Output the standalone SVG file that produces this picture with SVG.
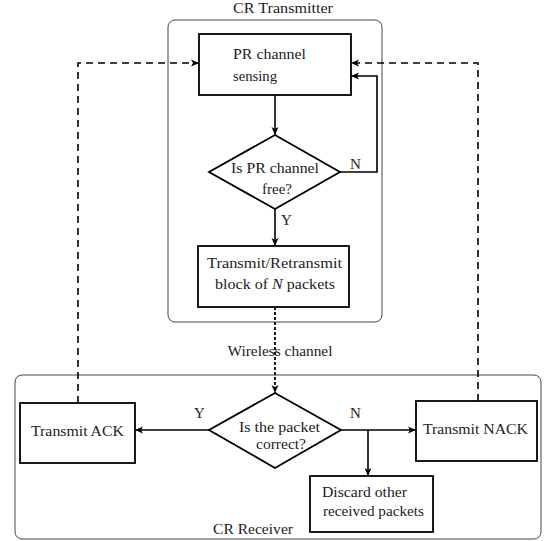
<svg xmlns="http://www.w3.org/2000/svg" width="546" height="541" viewBox="0 0 546 541">
  <style>
    text { font-family: "Liberation Serif", "DejaVu Serif", serif; font-size: 15px; fill: #222; }
    .mid { text-anchor: middle; }
    .container { fill: none; stroke: #444; stroke-width: 1; }
    .node { fill: #fff; stroke: #000; stroke-width: 1.8; }
    .solid { fill: none; stroke: #000; stroke-width: 1.6; }
    .dashed { fill: none; stroke: #000; stroke-width: 1.6; stroke-dasharray: 7 5; }
    .dotted { fill: none; stroke: #000; stroke-width: 1.8; stroke-dasharray: 3 2; }
  </style>
  <defs>
    <marker id="arrow" markerUnits="userSpaceOnUse" markerWidth="10" markerHeight="8" refX="8" refY="4" orient="auto">
      <path d="M0,0.5 L8,4 L0,7.5 L2,4 z" fill="#000"/>
    </marker>
  </defs>

  <rect fill="#fff" x="0" y="0" width="546" height="541"/>

  <!-- enclosing groups -->
  <g id="cr-transmitter">
    <rect class="container" x="168" y="20" width="214" height="302" rx="7"/>
    <text x="283" y="13" class="mid" textLength="100" lengthAdjust="spacingAndGlyphs">CR Transmitter</text>
  </g>
  <g id="cr-receiver">
    <rect class="container" x="15" y="375" width="526" height="164" rx="7"/>
    <text x="253" y="534" class="mid" textLength="80" lengthAdjust="spacingAndGlyphs">CR Receiver</text>
  </g>

  <!-- connectors -->
  <g id="connectors">
    <path class="solid" d="M275,95 V135" marker-end="url(#arrow)"/>
    <path class="solid" d="M340,172 H377 V76 H351" marker-end="url(#arrow)"/>
    <path class="solid" d="M275,209 V246" marker-end="url(#arrow)"/>
    <path class="dotted" d="M275,307 V393" marker-end="url(#arrow)"/>
    <path class="solid" d="M209,430 H135" marker-end="url(#arrow)"/>
    <path class="solid" d="M341,430 H416" marker-end="url(#arrow)"/>
    <path class="solid" d="M368,430 V476" marker-end="url(#arrow)"/>
    <path class="dashed" d="M78,403 V63 H199" marker-end="url(#arrow)"/>
    <path class="dashed" d="M478,401 V63 H351" marker-end="url(#arrow)"/>
    <text x="350" y="169">N</text>
    <text x="281" y="225">Y</text>
    <text x="194" y="418">Y</text>
    <text x="350" y="418">N</text>
    <text x="280" y="356" class="mid" textLength="105" lengthAdjust="spacingAndGlyphs">Wireless channel</text>
  </g>

  <!-- nodes -->
  <g id="pr-sensing">
    <rect class="node" x="199" y="34" width="152" height="61"/>
    <text x="233" y="59" textLength="73" lengthAdjust="spacingAndGlyphs">PR channel</text>
    <text x="233" y="80.5" textLength="44" lengthAdjust="spacingAndGlyphs">sensing</text>
  </g>
  <g id="pr-free">
    <polygon class="node" points="275,135 340,172 275,209 209,172"/>
    <text x="275" y="173" class="mid" textLength="88" lengthAdjust="spacingAndGlyphs">Is PR channel</text>
    <text x="277" y="194" class="mid" textLength="30" lengthAdjust="spacingAndGlyphs">free?</text>
  </g>
  <g id="transmit-block">
    <rect class="node" x="198" y="246" width="151" height="61"/>
    <text x="274.5" y="268" class="mid" textLength="135" lengthAdjust="spacingAndGlyphs">Transmit/Retransmit</text>
    <text x="275" y="289" class="mid" textLength="120" lengthAdjust="spacingAndGlyphs">block of <tspan font-style="italic">N</tspan> packets</text>
  </g>
  <g id="packet-correct">
    <polygon class="node" points="275,393 341,430 275,468 209,430"/>
    <text x="279.5" y="432" class="mid" textLength="81" lengthAdjust="spacingAndGlyphs">Is the packet</text>
    <text x="281" y="449" class="mid" textLength="50" lengthAdjust="spacingAndGlyphs">correct?</text>
  </g>
  <g id="transmit-ack">
    <rect class="node" x="20" y="403" width="115" height="60"/>
    <text x="77.5" y="436" class="mid" textLength="93" lengthAdjust="spacingAndGlyphs">Transmit ACK</text>
  </g>
  <g id="transmit-nack">
    <rect class="node" x="416" y="401" width="121" height="60"/>
    <text x="475.5" y="434" class="mid" textLength="105" lengthAdjust="spacingAndGlyphs">Transmit NACK</text>
  </g>
  <g id="discard">
    <rect class="node" x="310" y="476" width="123" height="56"/>
    <text x="322" y="497" textLength="85" lengthAdjust="spacingAndGlyphs">Discard other</text>
    <text x="323" y="516" textLength="101" lengthAdjust="spacingAndGlyphs">received packets</text>
  </g>
</svg>
